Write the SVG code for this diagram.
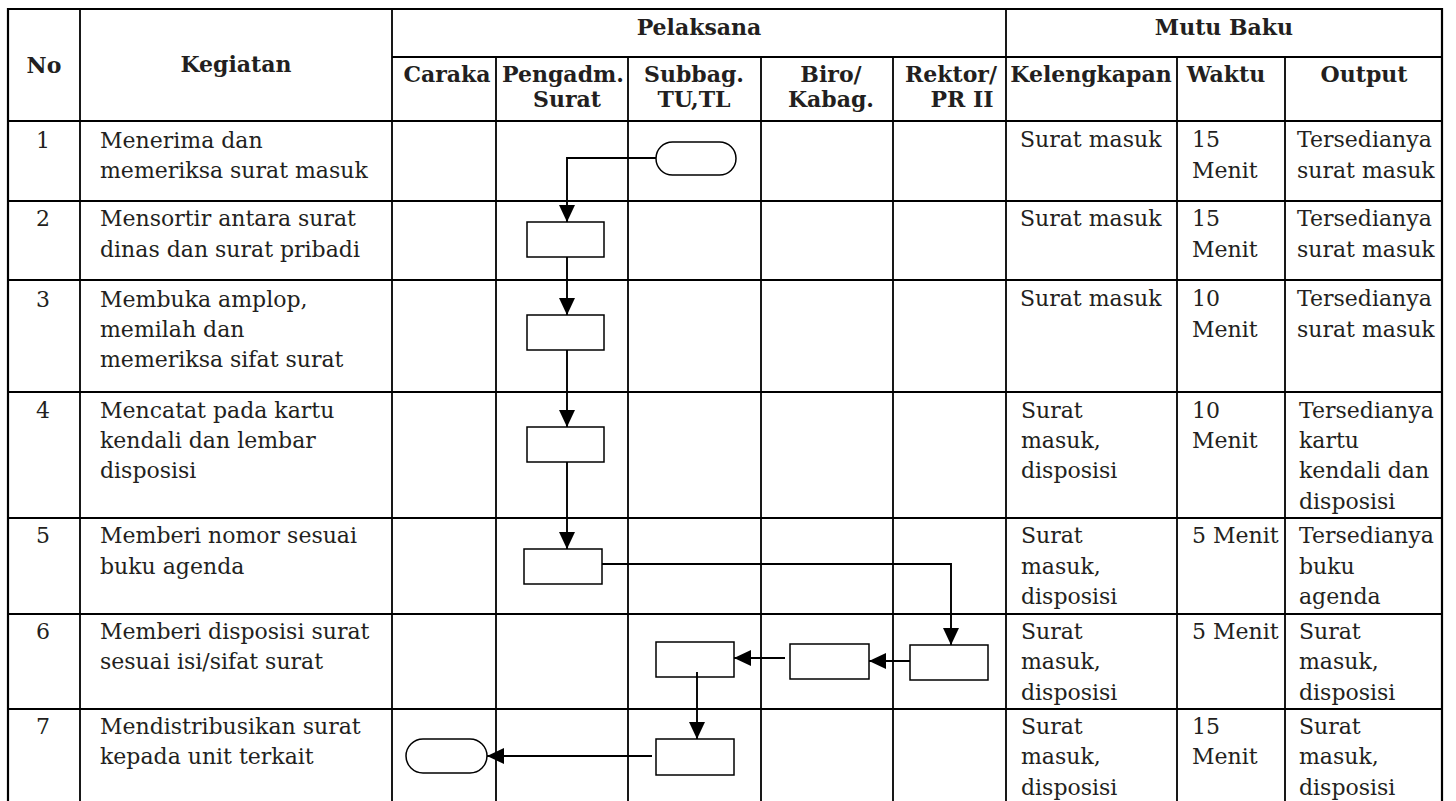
<svg xmlns="http://www.w3.org/2000/svg" width="1456" height="801" viewBox="0 0 1456 801">
<style>
.grid{stroke:#000;stroke-width:1.8;fill:none}
.outer{stroke:#000;stroke-width:2.2;fill:none}
.t{font-family:"DejaVu Serif","Liberation Serif",serif;font-size:22px;fill:#231f20}
.h{font-family:"DejaVu Serif","Liberation Serif",serif;font-size:22px;font-weight:bold;fill:#231f20}
.c{text-anchor:middle}
.box{fill:#fff;stroke:#000;stroke-width:1.5}
.conn{fill:none;stroke:#000;stroke-width:1.9}
</style>
<defs>
<marker id="arr" markerUnits="userSpaceOnUse" markerWidth="17" markerHeight="16" viewBox="0 0 17 16" refX="17" refY="8" orient="auto">
<path d="M0,0 L17,8 L0,16 z" fill="#000"/>
</marker>
</defs>
<rect width="1456" height="801" fill="#fff"/>
<g id="table">
<path class="outer" d="M8,801 V9 H1442 V801"/>
<path class="grid" d="M80,9 V801 M392,9 V801 M1006,9 V801 M392,57 H1442 M496,57 V801 M628,57 V801 M761,57 V801 M893,57 V801 M1177,57 V801 M1285,57 V801 M8,121 H1442 M8,201 H1442 M8,280 H1442 M8,392 H1442 M8,518 H1442 M8,614 H1442 M8,709 H1442"/>
</g>
<g id="header">
<text class="h c" x="44" y="73">No</text>
<text class="h c" x="236" y="72">Kegiatan</text>
<text class="h c" x="699" y="35">Pelaksana</text>
<text class="h c" x="1224" y="35">Mutu Baku</text>
<text class="h c" x="447" y="82">Caraka</text>
<text class="h c" x="563" y="82">Pengadm.</text>
<text class="h c" x="567" y="107">Surat</text>
<text class="h c" x="694" y="82">Subbag.</text>
<text class="h c" x="694" y="107">TU,TL</text>
<text class="h c" x="831" y="82">Biro/</text>
<text class="h c" x="831" y="107">Kabag.</text>
<text class="h c" x="951" y="82">Rektor/</text>
<text class="h c" x="962" y="107">PR II</text>
<text class="h c" x="1091" y="82">Kelengkapan</text>
<text class="h c" x="1226" y="82">Waktu</text>
<text class="h c" x="1364" y="82">Output</text>
</g>
<g id="row1">
<text class="t c" x="43" y="148">1</text>
<text class="t" x="100" y="148">Menerima dan</text>
<text class="t" x="100" y="178">memeriksa surat masuk</text>
<text class="t" x="1020" y="147">Surat masuk</text>
<text class="t" x="1192" y="147">15</text>
<text class="t" x="1192" y="178">Menit</text>
<text class="t" x="1297" y="147">Tersedianya</text>
<text class="t" x="1297" y="178">surat masuk</text>
</g>
<g id="row2">
<text class="t c" x="43" y="226">2</text>
<text class="t" x="100" y="226">Mensortir antara surat</text>
<text class="t" x="100" y="257">dinas dan surat pribadi</text>
<text class="t" x="1020" y="226">Surat masuk</text>
<text class="t" x="1192" y="226">15</text>
<text class="t" x="1192" y="257">Menit</text>
<text class="t" x="1297" y="226">Tersedianya</text>
<text class="t" x="1297" y="257">surat masuk</text>
</g>
<g id="row3">
<text class="t c" x="43" y="307">3</text>
<text class="t" x="100" y="307">Membuka amplop,</text>
<text class="t" x="100" y="337">memilah dan</text>
<text class="t" x="100" y="367">memeriksa sifat surat</text>
<text class="t" x="1020" y="306">Surat masuk</text>
<text class="t" x="1192" y="306">10</text>
<text class="t" x="1192" y="337">Menit</text>
<text class="t" x="1297" y="306">Tersedianya</text>
<text class="t" x="1297" y="337">surat masuk</text>
</g>
<g id="row4">
<text class="t c" x="43" y="418">4</text>
<text class="t" x="100" y="418">Mencatat pada kartu</text>
<text class="t" x="100" y="448">kendali dan lembar</text>
<text class="t" x="100" y="478">disposisi</text>
<text class="t" x="1021" y="418">Surat</text>
<text class="t" x="1021" y="448">masuk,</text>
<text class="t" x="1021" y="478">disposisi</text>
<text class="t" x="1192" y="418">10</text>
<text class="t" x="1192" y="448">Menit</text>
<text class="t" x="1299" y="418">Tersedianya</text>
<text class="t" x="1299" y="448">kartu</text>
<text class="t" x="1299" y="478">kendali dan</text>
<text class="t" x="1299" y="509">disposisi</text>
</g>
<g id="row5">
<text class="t c" x="43" y="543">5</text>
<text class="t" x="100" y="543">Memberi nomor sesuai</text>
<text class="t" x="100" y="574">buku agenda</text>
<text class="t" x="1021" y="543">Surat</text>
<text class="t" x="1021" y="574">masuk,</text>
<text class="t" x="1021" y="604">disposisi</text>
<text class="t" x="1192" y="543">5 Menit</text>
<text class="t" x="1299" y="543">Tersedianya</text>
<text class="t" x="1299" y="574">buku</text>
<text class="t" x="1299" y="604">agenda</text>
</g>
<g id="row6">
<text class="t c" x="43" y="639">6</text>
<text class="t" x="100" y="639">Memberi disposisi surat</text>
<text class="t" x="100" y="669">sesuai isi/sifat surat</text>
<text class="t" x="1021" y="639">Surat</text>
<text class="t" x="1021" y="669">masuk,</text>
<text class="t" x="1021" y="700">disposisi</text>
<text class="t" x="1192" y="639">5 Menit</text>
<text class="t" x="1299" y="639">Surat</text>
<text class="t" x="1299" y="669">masuk,</text>
<text class="t" x="1299" y="700">disposisi</text>
</g>
<g id="row7">
<text class="t c" x="43" y="734">7</text>
<text class="t" x="100" y="734">Mendistribusikan surat</text>
<text class="t" x="100" y="764">kepada unit terkait</text>
<text class="t" x="1021" y="734">Surat</text>
<text class="t" x="1021" y="764">masuk,</text>
<text class="t" x="1021" y="795">disposisi</text>
<text class="t" x="1192" y="734">15</text>
<text class="t" x="1192" y="764">Menit</text>
<text class="t" x="1299" y="734">Surat</text>
<text class="t" x="1299" y="764">masuk,</text>
<text class="t" x="1299" y="795">disposisi</text>
</g>
<g id="n1-start"><rect class="box" x="656" y="142" width="80" height="33" rx="16.5"/></g>
<g id="n2"><rect class="box" x="527" y="222" width="77" height="35"/></g>
<g id="n3"><rect class="box" x="527" y="315" width="77" height="35"/></g>
<g id="n4"><rect class="box" x="527" y="427" width="77" height="35"/></g>
<g id="n5"><rect class="box" x="524" y="549" width="78" height="35"/></g>
<g id="n6-rektor"><rect class="box" x="910" y="645" width="78" height="35"/></g>
<g id="n6-biro"><rect class="box" x="790" y="644" width="79" height="35"/></g>
<g id="n6-subbag"><rect class="box" x="656" y="642" width="78" height="35"/></g>
<g id="n7"><rect class="box" x="656" y="739" width="78" height="36"/></g>
<g id="n8-end"><rect class="box" x="406" y="739" width="81" height="34" rx="17"/></g>
<g id="connectors">
<path class="conn" d="M656,158 H567 V222" marker-end="url(#arr)"/>
<path class="conn" d="M567,257 V315" marker-end="url(#arr)"/>
<path class="conn" d="M567,350 V427" marker-end="url(#arr)"/>
<path class="conn" d="M567,462 V549" marker-end="url(#arr)"/>
<path class="conn" d="M602,564 H951 V645" marker-end="url(#arr)"/>
<path class="conn" d="M910,661 H869" marker-end="url(#arr)"/>
<path class="conn" d="M785,658 H734" marker-end="url(#arr)"/>
<path class="conn" d="M697,672 V739" marker-end="url(#arr)"/>
<path class="conn" d="M652,756 H487" marker-end="url(#arr)"/>
</g>
</svg>
